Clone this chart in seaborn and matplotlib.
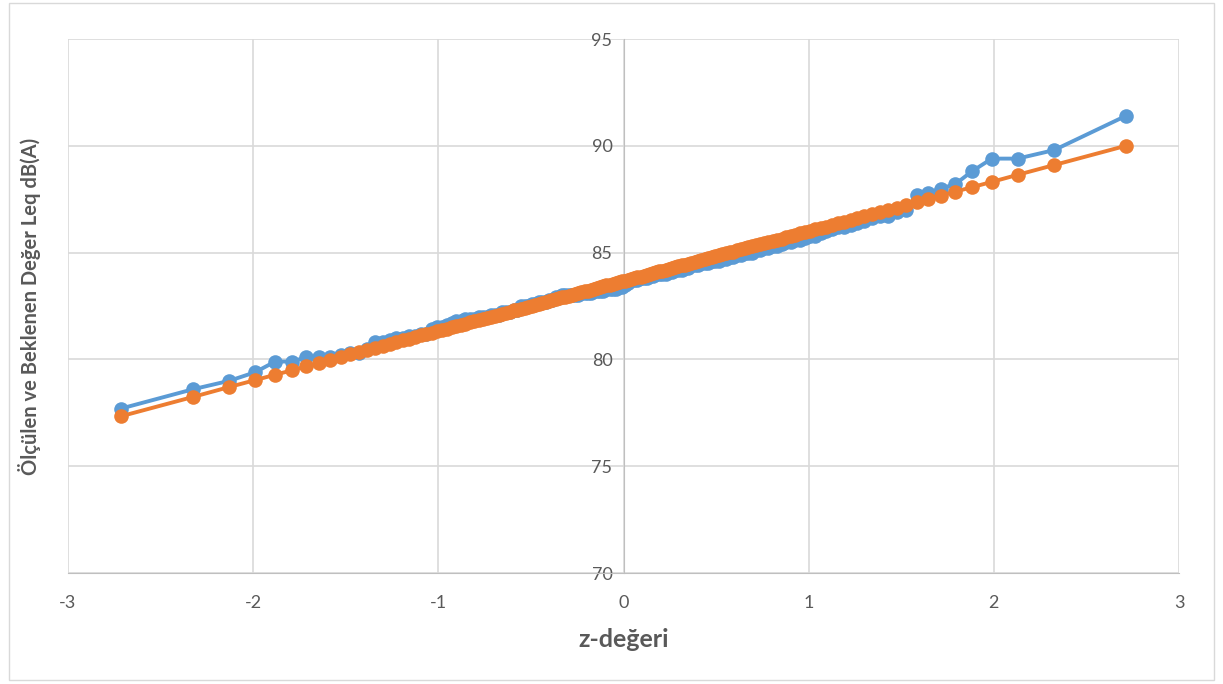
import seaborn as sns
import numpy as np
import pandas as pd
import matplotlib.pyplot as plt
from matplotlib.patches import Rectangle

# z-değeri (normal quantiles, 150 points)
z_degeri = [
    -2.713, -2.326, -2.128, -1.989, -1.881, -1.791, -1.713, -1.645, -1.583, -1.528,
    -1.476, -1.428, -1.383, -1.341, -1.301, -1.263, -1.227, -1.192, -1.159, -1.126,
    -1.095, -1.065, -1.036, -1.008, -0.980, -0.954, -0.928, -0.903, -0.878, -0.854,
    -0.830, -0.806, -0.783, -0.761, -0.739, -0.717, -0.696, -0.674, -0.654, -0.633,
    -0.613, -0.593, -0.573, -0.553, -0.534, -0.515, -0.496, -0.477, -0.458, -0.440,
    -0.421, -0.403, -0.385, -0.367, -0.349, -0.332, -0.314, -0.297, -0.279, -0.262,
    -0.245, -0.228, -0.210, -0.193, -0.176, -0.160, -0.143, -0.126, -0.109, -0.092,
    -0.075, -0.059, -0.042, -0.025, -0.008,
    0.008, 0.025, 0.042, 0.059, 0.075, 0.092, 0.109, 0.126, 0.143, 0.160,
    0.176, 0.193, 0.210, 0.228, 0.245, 0.262, 0.279, 0.297, 0.314, 0.332,
    0.349, 0.367, 0.385, 0.403, 0.421, 0.440, 0.458, 0.477, 0.496, 0.515,
    0.534, 0.553, 0.573, 0.593, 0.613, 0.633, 0.654, 0.674, 0.696, 0.717,
    0.739, 0.761, 0.783, 0.806, 0.830, 0.854, 0.878, 0.903, 0.928, 0.954,
    0.980, 1.008, 1.036, 1.065, 1.095, 1.126, 1.159, 1.192, 1.227, 1.263,
    1.301, 1.341, 1.383, 1.428, 1.476, 1.528, 1.583, 1.645, 1.713, 1.791,
    1.881, 1.989, 2.128, 2.326, 2.713,
]

# measured Leq dB(A), sorted
olculen = [
    77.7, 78.6, 79.0, 79.4, 79.9, 79.9, 80.1, 80.1, 80.1, 80.2,
    80.3, 80.3, 80.5, 80.8, 80.8, 80.9, 81.0, 81.0, 81.1, 81.1,
    81.2, 81.2, 81.4, 81.5, 81.5, 81.6, 81.7, 81.8, 81.8, 81.9,
    81.9, 81.9, 82.0, 82.0, 82.0, 82.1, 82.1, 82.1, 82.2, 82.2,
    82.2, 82.3, 82.3, 82.5, 82.5, 82.5, 82.6, 82.6, 82.7, 82.7,
    82.7, 82.8, 82.8, 82.9, 82.9, 83.0, 83.0, 83.0, 83.0, 83.0,
    83.0, 83.1, 83.1, 83.1, 83.1, 83.2, 83.2, 83.2, 83.2, 83.3,
    83.3, 83.3, 83.3, 83.4, 83.4,
    83.5, 83.6, 83.7, 83.7, 83.7, 83.8, 83.8, 83.8, 83.9, 83.9,
    84.0, 84.0, 84.0, 84.0, 84.1, 84.1, 84.2, 84.2, 84.2, 84.3,
    84.3, 84.4, 84.4, 84.4, 84.5, 84.5, 84.5, 84.6, 84.6, 84.6,
    84.7, 84.7, 84.8, 84.8, 84.9, 84.9, 85.0, 85.0, 85.0, 85.1,
    85.1, 85.2, 85.2, 85.3, 85.3, 85.4, 85.5, 85.5, 85.6, 85.6,
    85.7, 85.8, 85.8, 85.9, 86.0, 86.1, 86.2, 86.2, 86.3, 86.4,
    86.5, 86.6, 86.7, 86.7, 86.9, 87.0, 87.7, 87.8, 88.0, 88.2,
    88.8, 89.4, 89.4, 89.8, 91.4,
]

# expected Leq dB(A)
beklenen = [
    77.34, 78.24, 78.71, 79.03, 79.28, 79.49, 79.67, 79.83, 79.98, 80.11,
    80.23, 80.34, 80.44, 80.54, 80.64, 80.72, 80.81, 80.89, 80.97, 81.04,
    81.12, 81.19, 81.25, 81.32, 81.38, 81.44, 81.51, 81.56, 81.62, 81.68,
    81.73, 81.79, 81.84, 81.89, 81.95, 82.00, 82.05, 82.10, 82.14, 82.19,
    82.24, 82.29, 82.33, 82.38, 82.42, 82.47, 82.51, 82.56, 82.60, 82.64,
    82.69, 82.73, 82.77, 82.81, 82.86, 82.90, 82.94, 82.98, 83.02, 83.06,
    83.10, 83.14, 83.18, 83.22, 83.26, 83.30, 83.34, 83.38, 83.42, 83.46,
    83.50, 83.53, 83.57, 83.61, 83.65,
    83.69, 83.73, 83.77, 83.81, 83.84, 83.88, 83.92, 83.96, 84.00, 84.04,
    84.08, 84.12, 84.16, 84.20, 84.24, 84.28, 84.32, 84.36, 84.40, 84.44,
    84.48, 84.53, 84.57, 84.61, 84.65, 84.70, 84.74, 84.78, 84.83, 84.87,
    84.92, 84.96, 85.01, 85.05, 85.10, 85.15, 85.20, 85.24, 85.29, 85.34,
    85.39, 85.45, 85.50, 85.55, 85.61, 85.66, 85.72, 85.78, 85.84, 85.90,
    85.96, 86.02, 86.09, 86.15, 86.22, 86.30, 86.37, 86.45, 86.53, 86.62,
    86.70, 86.80, 86.90, 87.00, 87.11, 87.23, 87.36, 87.51, 87.67, 87.85,
    88.06, 88.31, 88.64, 89.10, 90.00,
]

x_ticks = [-3, -2, -1, 0, 1, 2, 3]
y_ticks = [70, 75, 80, 85, 90, 95]

sns.set_style('white')
plt.rcParams['font.family'] = ['Lato', 'DejaVu Sans']
plt.rcParams['axes.unicode_minus'] = False

df = pd.DataFrame({'z': z_degeri, 'olculen': olculen, 'beklenen': beklenen})

fig = plt.figure(figsize=(12.23, 6.84), dpi=100)
ax = fig.add_axes([68 / 1223, 1 - 573 / 684, (1179 - 68) / 1223, (573 - 39) / 684])

# outer chart border
fig.patches.append(Rectangle((0.007, 0.006), 0.986, 0.99, transform=fig.transFigure,
                             fill=False, edgecolor='#d9d9d9', linewidth=1))

sns.lineplot(data=df, x='z', y='olculen', color='#5B9BD5', marker='o', markersize=10.5,
             markeredgewidth=0, linewidth=2.8, estimator=None, sort=False, zorder=3, ax=ax)
sns.lineplot(data=df, x='z', y='beklenen', color='#ED7D31', marker='o', markersize=10.5,
             markeredgewidth=0, linewidth=2.8, estimator=None, sort=False, zorder=4, ax=ax)

ax.set_xlim(-3, 3)
ax.set_ylim(70, 95)
ax.set_xticks(x_ticks)
ax.set_yticks(y_ticks)
ax.grid(True, color='#d9d9d9', linewidth=1.2)
ax.set_axisbelow(True)

ax.spines['left'].set_position(('data', 0))
ax.spines['left'].set_color('#bfbfbf')
ax.spines['bottom'].set_color('#bfbfbf')
ax.spines['top'].set_visible(False)
ax.spines['right'].set_visible(False)

ax.tick_params(length=0, labelsize=13, labelcolor='#595959')
ax.tick_params(axis='x', pad=16)
ax.tick_params(axis='y', pad=8)

ax.set_xlabel('z-değeri', fontsize=18, fontweight='bold', color='#595959')
ax.xaxis.set_label_coords(0.5, -0.125)
ax.xaxis.label.set_va('center')
ax.set_ylabel('Ölçülen ve Beklenen Değer Leq dB(A)', fontsize=14.5, fontweight='bold',
              color='#595959')
ax.yaxis.set_label_coords(-0.024, 0.5)

fig.savefig('out.png', dpi=100)
